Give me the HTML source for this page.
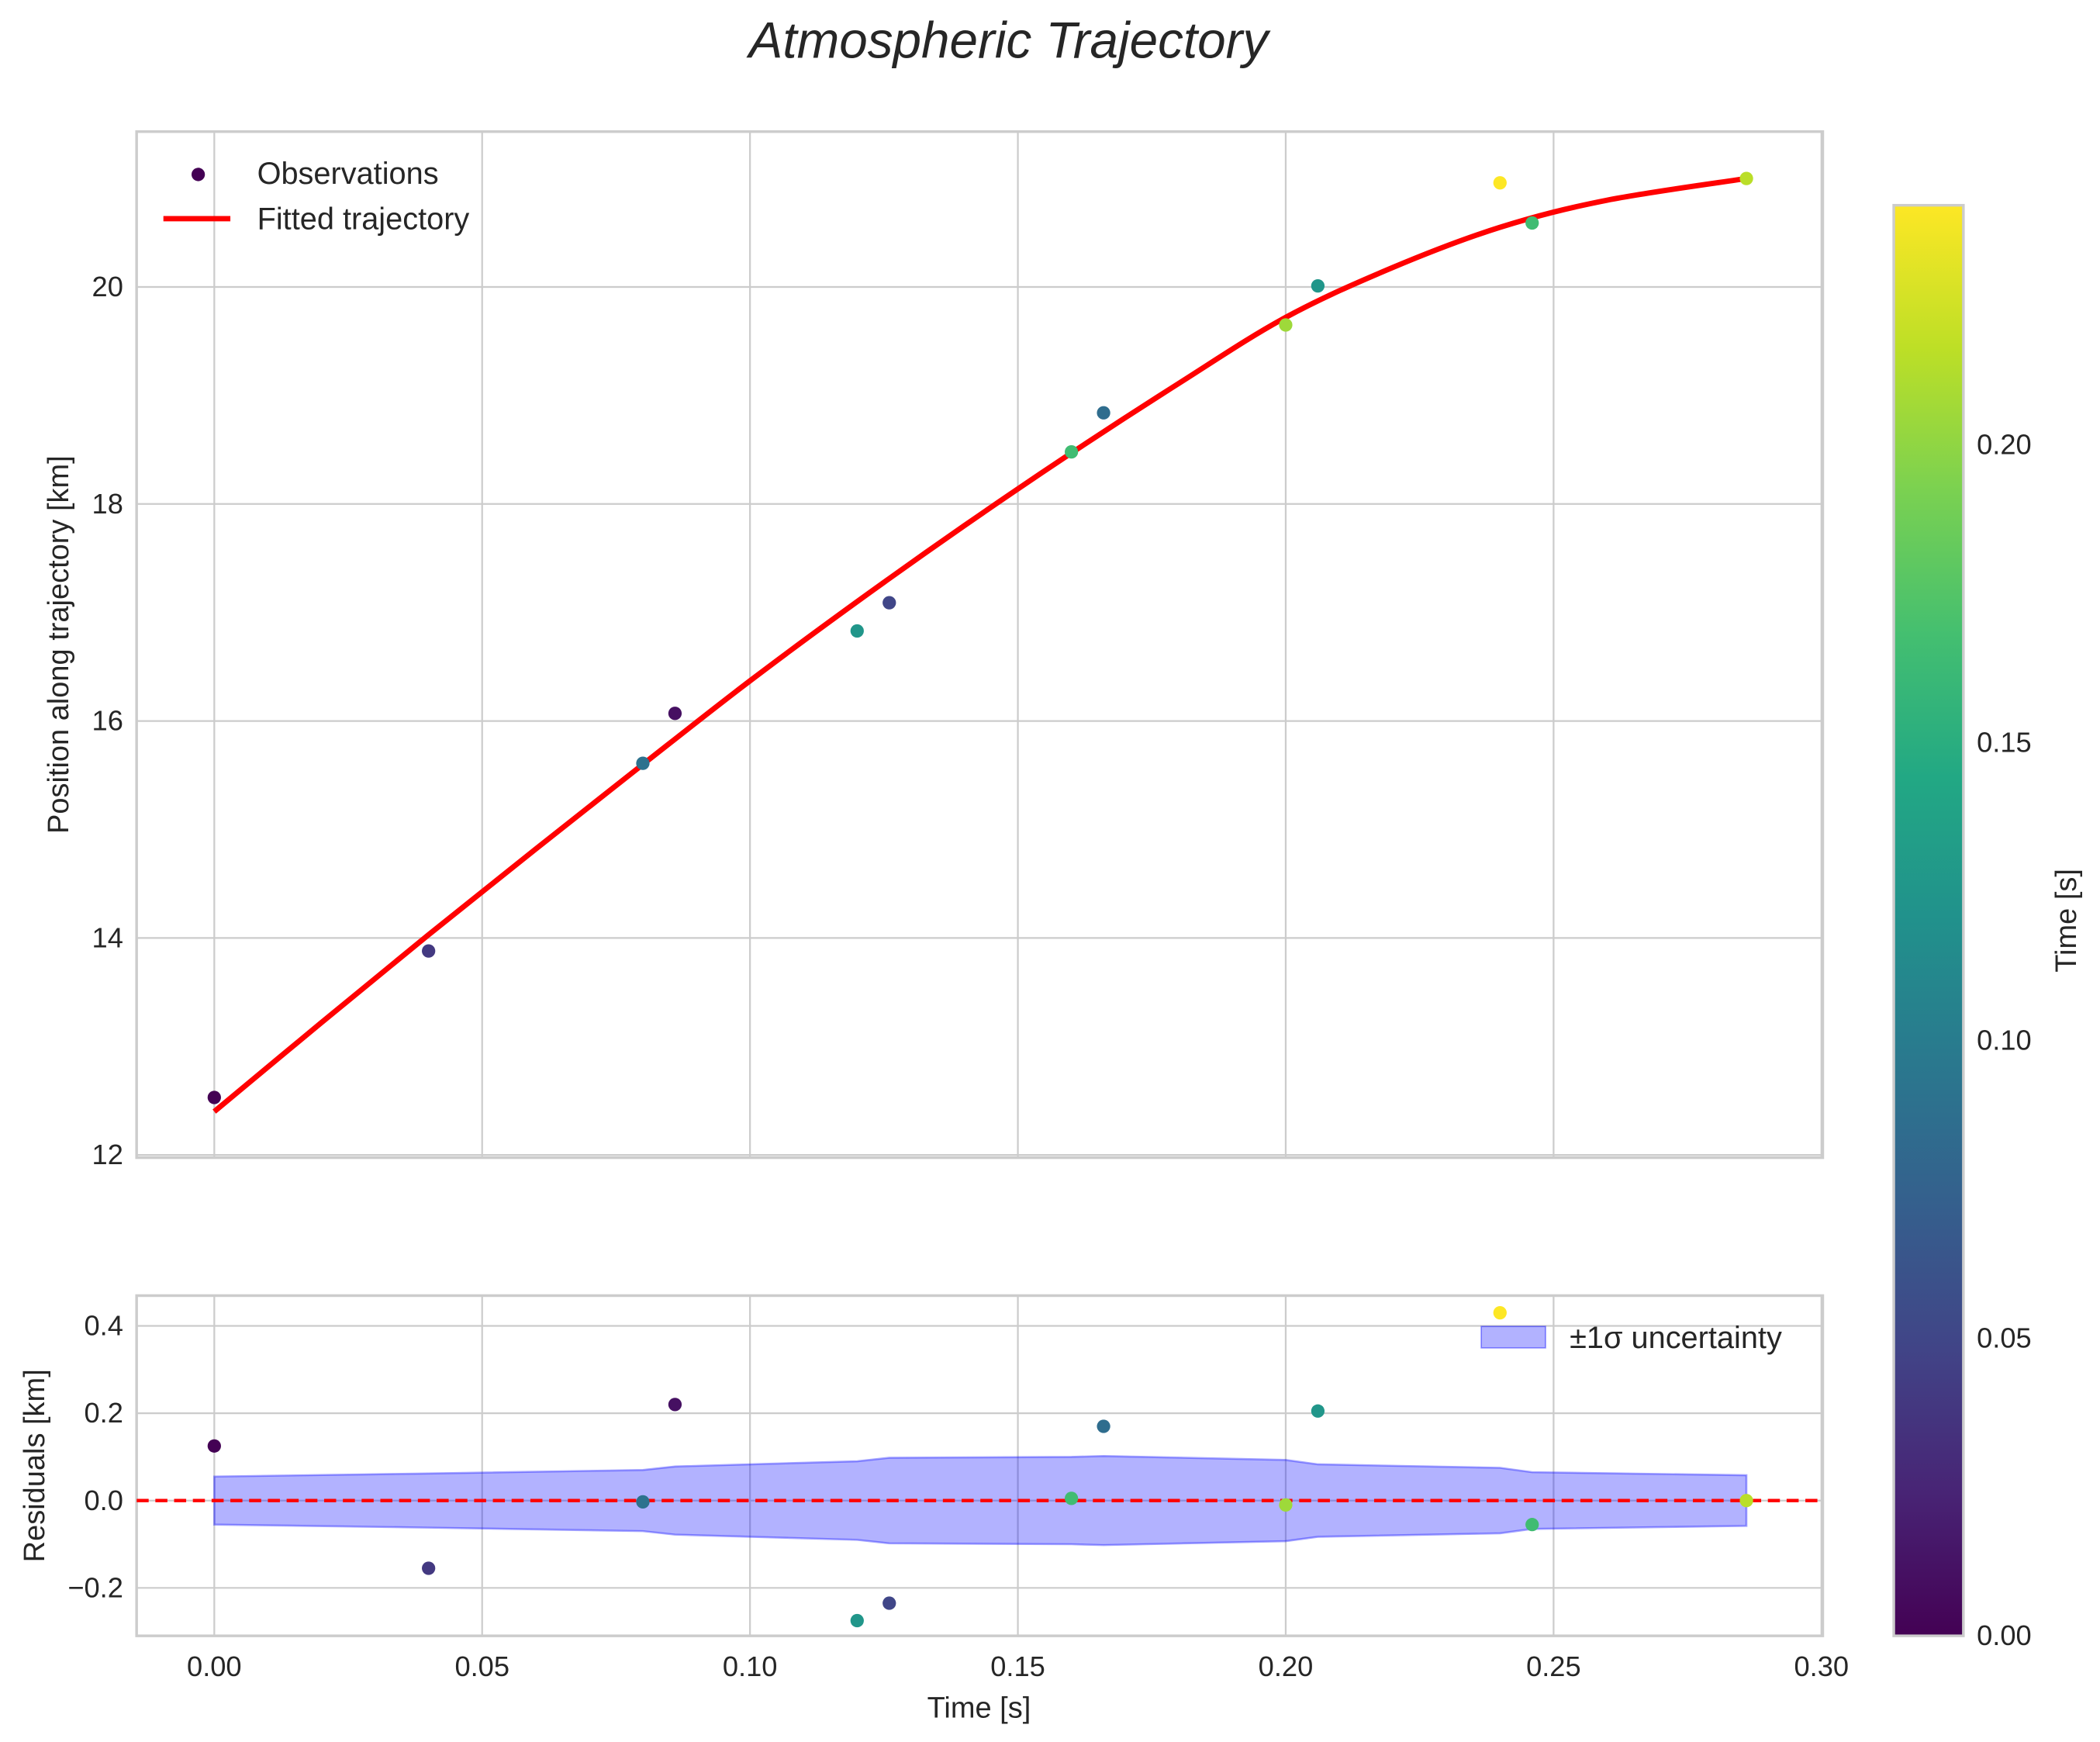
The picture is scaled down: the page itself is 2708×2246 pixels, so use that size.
<!DOCTYPE html>
<html><head><meta charset="utf-8"><style>
html,body{margin:0;padding:0;background:#fff}
svg{display:block}
text{font-family:"Liberation Sans",sans-serif;fill:#262626}
</style></head><body>
<svg id="chart" width="2708" height="2246" viewBox="0 0 1568 1300" xmlns="http://www.w3.org/2000/svg">
<defs>
<linearGradient id="vir" x1="0" y1="1" x2="0" y2="0">
<stop offset="0" stop-color="#440154"/><stop offset="0.1" stop-color="#482475"/><stop offset="0.2" stop-color="#414487"/><stop offset="0.3" stop-color="#355f8d"/><stop offset="0.4" stop-color="#2a788e"/><stop offset="0.5" stop-color="#21918c"/><stop offset="0.6" stop-color="#22a884"/><stop offset="0.7" stop-color="#44bf70"/><stop offset="0.8" stop-color="#7ad151"/><stop offset="0.9" stop-color="#bddf26"/><stop offset="1" stop-color="#fde725"/>
</linearGradient>
<clipPath id="c1"><rect x="102" y="98" width="1259" height="766"/></clipPath>
<clipPath id="c2"><rect x="102" y="967" width="1259" height="254"/></clipPath>
</defs>
<text x="753" y="43" text-anchor="middle" font-size="38" font-style="italic">Atmospheric Trajectory</text>
<g id="topax"></g>
<g id="botax"></g>
<g id="cbar"></g>
</svg>
<script>
const times=[0,0.04,0.08,0.086,0.12,0.126,0.16,0.166,0.2,0.206,0.24,0.246,0.286];
const positions=[12.53,13.88,15.61,16.07,16.83,17.09,18.48,18.84,19.65,20.01,20.96,20.59,21.0];
const fitTimes=[0,0.02,0.04,0.06,0.08,0.10,0.12,0.14,0.16,0.18,0.20,0.22,0.24,0.26,0.286];
const fitted=[12.40,13.22,14.03,14.82,15.60,16.37,17.10,17.80,18.47,19.11,19.72,20.18,20.55,20.80,21.0];
const residuals=[0.125,-0.155,-0.003,0.22,-0.275,-0.235,0.005,0.17,-0.01,0.205,0.43,-0.055,0.0];
const sigma=[0.055,0.062,0.07,0.078,0.09,0.098,0.1,0.102,0.093,0.083,0.075,0.065,0.058];
const colorVals=[0.0,0.04,0.09,0.01,0.125,0.05,0.165,0.085,0.205,0.125,0.24,0.165,0.215];
const xTicks=[0,0.05,0.1,0.15,0.2,0.25,0.3];
const yTicksTop=[12,14,16,18,20];
const yTicksBot=[-0.2,0,0.2,0.4];
const cTicks=[0,0.05,0.1,0.15,0.2];

const NS="http://www.w3.org/2000/svg";
function mk(p,t,a,txt){const e=document.createElementNS(NS,t);for(const k in a)e.setAttribute(k,a[k]);if(txt!==undefined)e.textContent=txt;p.appendChild(e);return e;}
const X=t=>160+(t-0)*4000;
const Yt=v=>862-(v-12)*81;
const Yb=v=>1120-v*326;
const C=v=>1221-v/0.24*1067;
const stops=["#440154","#482475","#414487","#355f8d","#2a788e","#21918c","#22a884","#44bf70","#7ad151","#bddf26","#fde725"];
function vir(v){let f=Math.max(0,Math.min(1,v/0.24))*10;let i=Math.min(9,Math.floor(f)),r=f-i;const a=stops[i],b=stops[i+1];const h=(s,k)=>parseInt(s.substr(1+2*k,2),16);let o="#";for(let k=0;k<3;k++){o+=Math.round(h(a,k)*(1-r)+h(b,k)*r).toString(16).padStart(2,"0");}return o;}
function smoothPath(pts){let d="M"+pts[0][0]+","+pts[0][1];for(let i=0;i<pts.length-1;i++){const p0=pts[Math.max(0,i-1)],p1=pts[i],p2=pts[i+1],p3=pts[Math.min(pts.length-1,i+2)];const c1=[p1[0]+(p2[0]-p0[0])/6,p1[1]+(p2[1]-p0[1])/6],c2=[p2[0]-(p3[0]-p1[0])/6,p2[1]-(p3[1]-p1[1])/6];d+=" C"+c1[0]+","+c1[1]+" "+c2[0]+","+c2[1]+" "+p2[0]+","+p2[1];}return d;}

const gTop=document.getElementById("topax"),gBot=document.getElementById("botax"),gCb=document.getElementById("cbar");
mk(gTop,"rect",{x:102,y:98,width:1259,height:766,fill:"#fff"});
xTicks.forEach(t=>{const l=mk(gTop,"line",{x1:X(t),x2:X(t),y1:98,y2:864,stroke:"#cccccc","stroke-width":1.3});});
yTicksTop.forEach(v=>{mk(gTop,"line",{x1:102,x2:1361,y1:Yt(v),y2:Yt(v),stroke:"#cccccc","stroke-width":1.3});const t=mk(gTop,"text",{x:92,y:Yt(v)+7,"text-anchor":"end","font-size":21},String(v));});
mk(gTop,"rect",{x:102,y:98,width:1259,height:766,fill:"none",stroke:"#cccccc","stroke-width":2});
const g1=mk(gTop,"g",{"clip-path":"url(#c1)"});
const fl=mk(g1,"path",{d:smoothPath(fitTimes.map((t,i)=>[X(t),Yt(fitted[i])])),fill:"none",stroke:"#ff0000","stroke-width":4,"stroke-linejoin":"round"});


times.forEach((t,i)=>{const c=mk(g1,"circle",{cx:X(t),cy:Yt(positions[i]),r:5,fill:vir(colorVals[i])});});
const yt=mk(gTop,"text",{x:51,y:481,"text-anchor":"middle","font-size":22,transform:"rotate(-90 51 481)"},"Position along trajectory [km]");


mk(gTop,"circle",{cx:148,cy:130,r:5,fill:"#440154"});
const lo=mk(gTop,"text",{x:192,y:137,"font-size":23},"Observations");


mk(gTop,"line",{x1:122,x2:172,y1:163,y2:163,stroke:"#ff0000","stroke-width":4});
const lf=mk(gTop,"text",{x:192,y:171,"font-size":23},"Fitted trajectory");



xTicks.forEach(t=>{mk(gBot,"line",{x1:X(t),x2:X(t),y1:967,y2:1221,stroke:"#cccccc","stroke-width":1.3});const s=mk(gBot,"text",{x:X(t),y:1251,"text-anchor":"middle","font-size":21},t.toFixed(2));});
yTicksBot.forEach(v=>{mk(gBot,"line",{x1:102,x2:1361,y1:Yb(v),y2:Yb(v),stroke:"#cccccc","stroke-width":1.3});const s=mk(gBot,"text",{x:92,y:Yb(v)+7,"text-anchor":"end","font-size":21},(v<0?"\u2212":"")+Math.abs(v).toFixed(1));});
mk(gBot,"rect",{x:102,y:967,width:1259,height:254,fill:"none",stroke:"#cccccc","stroke-width":2});
const g2=mk(gBot,"g",{"clip-path":"url(#c2)"});
const up=times.map((t,i)=>X(t)+","+Yb(sigma[i])),dn=times.map((t,i)=>X(t)+","+Yb(-sigma[i])).reverse();
const band=mk(g2,"polygon",{points:up.concat(dn).join(" "),fill:"rgba(0,0,255,0.3)",stroke:"rgba(0,0,255,0.35)","stroke-width":1.5});


const zl=mk(g2,"line",{x1:102,x2:1361,y1:Yb(0),y2:Yb(0),stroke:"#ff0000","stroke-width":2.5,"stroke-dasharray":"9,5"});


times.forEach((t,i)=>{const c=mk(g2,"circle",{cx:X(t),cy:Yb(residuals[i]),r:5,fill:vir(colorVals[i])});});
const rt=mk(gBot,"text",{x:33,y:1094,"text-anchor":"middle","font-size":22,transform:"rotate(-90 33 1094)"},"Residuals [km]");


const xt=mk(gBot,"text",{x:731,y:1282,"text-anchor":"middle","font-size":22},"Time [s]");


mk(gBot,"rect",{x:1106,y:990,width:48,height:16,fill:"rgba(0,0,255,0.3)",stroke:"rgba(0,0,255,0.4)"});
const lu=mk(gBot,"text",{x:1172,y:1006,"font-size":23},"\u00b11\u03c3 uncertainty");



mk(gCb,"rect",{x:1414,y:153,width:52,height:1068,fill:"url(#vir)",stroke:"#cccccc","stroke-width":2});
cTicks.forEach(v=>{const s=mk(gCb,"text",{x:1476,y:C(v)+7,"font-size":21},v.toFixed(2));});
const ct=mk(gCb,"text",{x:1550,y:687,"text-anchor":"middle","font-size":22,transform:"rotate(-90 1550 687)"},"Time [s]");


</script>
</body></html>
